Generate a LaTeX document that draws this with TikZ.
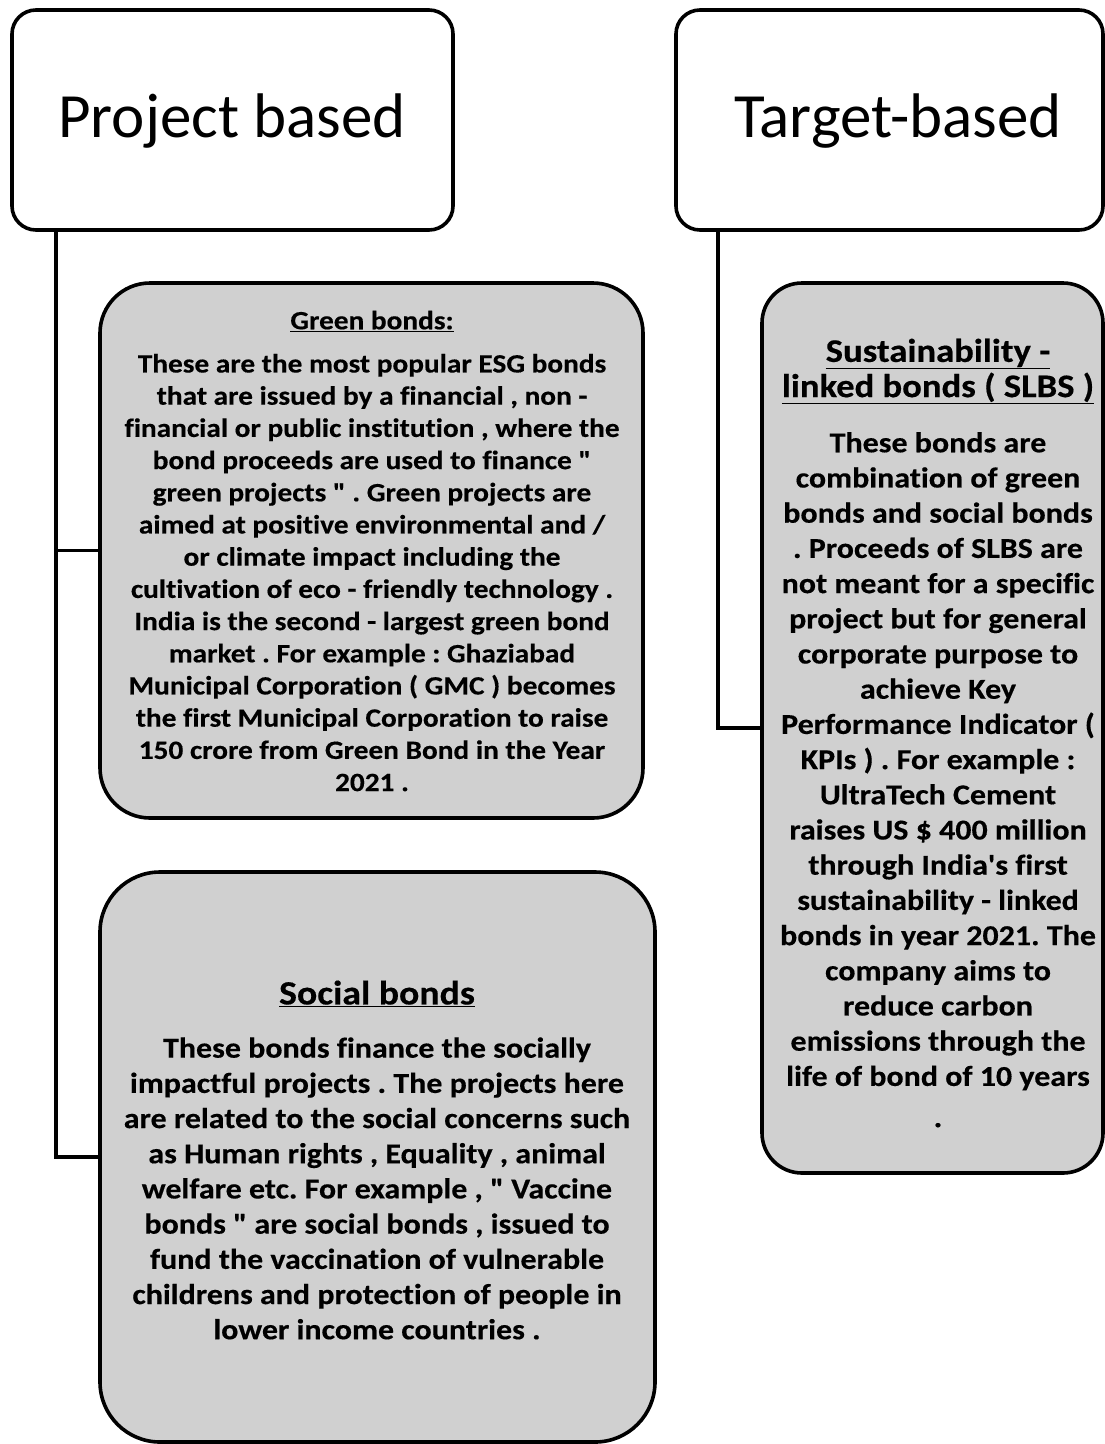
\documentclass[tikz,border=0pt]{standalone}
\usepackage{fontspec}
\setmainfont{Carlito}
\newfontfamily\bodyfont{Carlito}[Ligatures={TeXOff,CommonOff}, FakeStretch=1.11, BoldFeatures={FakeBold=0.4}]
\begin{document}
\frenchspacing
\begin{tikzpicture}[x=1pt,y=-1pt]
\definecolor{boxfill}{RGB}{208,208,208}
\tikzset{
  headbox/.style={draw, line width=3.6pt, rounded corners=24pt, fill=white, inner sep=0pt},
  bondbox/.style={draw, line width=3.6pt, fill=boxfill, inner sep=0pt},
  conn/.style={draw, line width=3.6pt},
  headtext/.style={inner sep=0pt, anchor=base, font=\fontsize{63}{70}\selectfont},
  smalltext/.style={align=center, inner sep=0pt, font=\bodyfont\fontsize{26.4}{32.2}\selectfont\bfseries},
  bigtext/.style={align=center, inner sep=0pt, font=\bodyfont\fontsize{28.8}{35.2}\selectfont\bfseries}
}
\useasboundingbox (0,0) rectangle (1105,1444);

% category headers
\node[headbox, minimum width=441pt, minimum height=220pt] (pb) at (232.5,120) {};
\node[headtext] (pbt) at (232,137) {Project based};
\node[headbox, minimum width=427pt, minimum height=220pt] (tb) at (889.5,120) {};
\node[headtext] (tbt) at (898,137) {Target-based};

% bond boxes
\node[bondbox, rounded corners=50pt, minimum width=543pt, minimum height=535pt] (green) at (371.5,550.5) {};
\node[bondbox, rounded corners=60pt, minimum width=555pt, minimum height=570pt] (social) at (377.5,1157) {};
\node[bondbox, rounded corners=40pt, minimum width=341pt, minimum height=890pt] (slbs) at (932.5,728) {};

% connectors
\draw[conn] ([xshift=46pt]pb.south west) |- (green.west);
\draw[conn] ([xshift=46pt]pb.south west) |- (social.west);
\draw[conn] ([xshift=44pt]tb.south west) |- (slbs.west);

% box texts
\node[smalltext] (greent) at (372,551) {%
\underline{Green bonds:}\\[11pt]
These are the most popular ESG bonds\\
that are issued by a financial , non -\\
financial or public institution , where the\\
bond proceeds are used to finance "\\
green projects " . Green projects are\\
aimed at positive environmental and /\\
or climate impact including the\\
cultivation of eco - friendly technology .\\
India is the second - largest green bond\\
market . For example : Ghaziabad\\
Municipal Corporation ( GMC ) becomes\\
the first Municipal Corporation to raise\\
150 crore from Green Bond in the Year\\
2021 .};

\node[bigtext] (socialt) at (377,1160) {%
{\fontsize{34}{40}\selectfont\underline{Social bonds}}\\[18pt]
These bonds finance the socially\\
impactful projects . The projects here\\
are related to the social concerns such\\
as Human rights , Equality , animal\\
welfare etc. For example , " Vaccine\\
bonds " are social bonds , issued to\\
fund the vaccination of vulnerable\\
childrens and protection of people in\\
lower income countries .};

\node[bigtext] (slbst) at (938,733) {%
{\fontsize{33}{35.2}\selectfont\underline{Sustainability -}}\\
{\fontsize{33}{35.2}\selectfont\underline{linked bonds ( SLBS )}}\\[20pt]
These bonds are\\
combination of green\\
bonds and social bonds\\
. Proceeds of SLBS are\\
not meant for a specific\\
project but for general\\
corporate purpose to\\
achieve Key\\
Performance Indicator (\\
KPIs ) . For example :\\
UltraTech Cement\\
raises US \$ 400 million\\
through India's first\\
sustainability - linked\\
bonds in year 2021. The\\
company aims to\\
reduce carbon\\
emissions through the\\
life of bond of 10 years\\[6pt]
.};
\end{tikzpicture}
\end{document}
